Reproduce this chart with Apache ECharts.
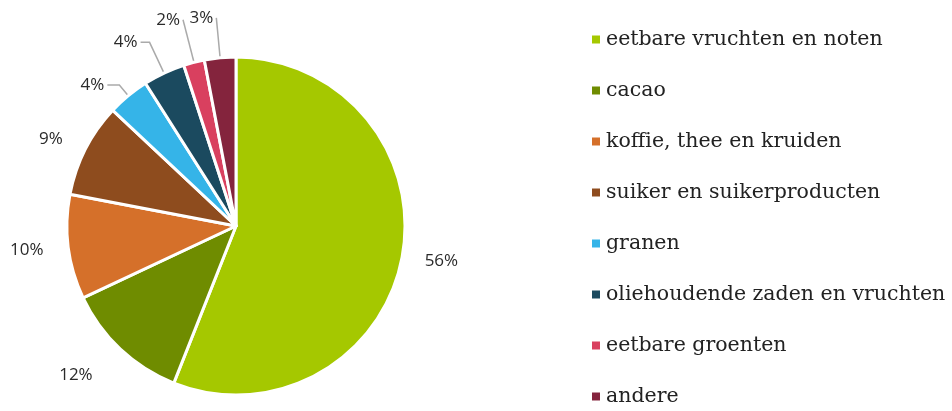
<!DOCTYPE html>
<html lang="nl">
<head>
  <meta charset="UTF-8">
  <title>Invoer per productgroep</title>
  <script src="https://cdn.jsdelivr.net/npm/echarts@6/dist/echarts.min.js"></script>
  <style>
    html, body { margin: 0; padding: 0; background: #fff; }
    #main { width: 952px; height: 411px; }
  </style>
</head>
<body>
  <div id="main"></div>
  <script>
    // categorieën en aandelen (%)
    const categories = [
      'eetbare vruchten en noten',
      'cacao',
      'koffie, thee en kruiden',
      'suiker en suikerproducten',
      'granen',
      'oliehoudende zaden en vruchten',
      'eetbare groenten',
      'andere'
    ];
    const shares = [56, 12, 10, 9, 4, 4, 2, 3];
    const colors = ['#a5c800', '#6f8c00', '#d5702a', '#8e4c1e', '#35b4e8', '#1b4a5f', '#d9405f', '#84243d'];

    // kleine segmenten krijgen een verbindingslijn; lengtes per label
    const showLine = [false, false, false, false, true, true, true, true];
    const lineLen = [20, 36, 22, 22, 14, 34, 44, 40];
    const lineLen2 = [0, 0, 0, 0, 12, 9, 0, 0];

    let myChart = echarts.init(document.querySelector('#main'));

    let option = {
      animation: false,
      color: colors,
      legend: {
        orient: 'vertical',
        left: 590,
        top: 29,
        bottom: 0,
        padding: 0,
        itemWidth: 10,
        itemHeight: 10,
        itemGap: 30,
        icon: 'rect',
        textStyle: {
          fontFamily: 'DejaVu Serif',
          fontSize: 20.5,
          color: '#222'
        },
        data: categories
      },
      series: [
        {
          type: 'pie',
          center: [236, 226],
          radius: [0, 169],
          startAngle: 90,
          clockwise: true,
          avoidLabelOverlap: false,
          itemStyle: {
            borderColor: '#fff',
            borderWidth: 3
          },
          label: {
            show: true,
            position: 'outside',
            formatter: '{c}%',
            fontFamily: 'Open Sans',
            fontSize: 17,
            color: '#2a2a2a',
            distanceToLabelLine: 3
          },
          labelLine: {
            lineStyle: { color: '#aaa', width: 1.5 }
          },
          data: categories.map((name, i) => ({
            name: name,
            value: shares[i],
            labelLine: { show: showLine[i], length: lineLen[i], length2: lineLen2[i] }
          }))
        }
      ]
    };

    myChart.setOption(option);
  </script>
</body>
</html>
